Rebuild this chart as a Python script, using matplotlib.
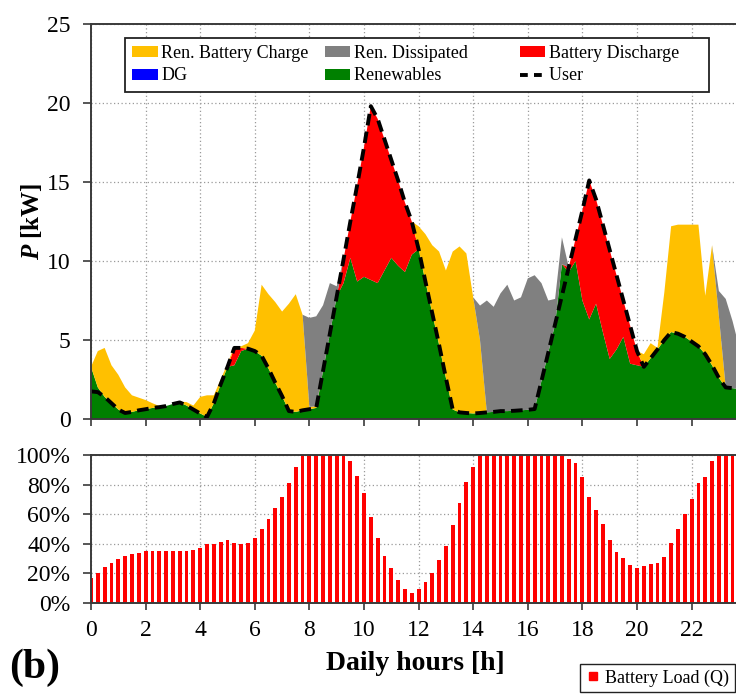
import numpy as np
import matplotlib
matplotlib.use("Agg")
import matplotlib.pyplot as plt
from matplotlib.patches import Patch
from matplotlib.lines import Line2D

plt.rcParams['font.family'] = ['Liberation Serif', 'DejaVu Serif']
plt.rcParams['mathtext.fontset'] = 'custom'
plt.rcParams['mathtext.it'] = 'Liberation Serif:italic:bold'
plt.rcParams['mathtext.rm'] = 'Liberation Serif:bold'

# ---------------- data (15-minute steps) ----------------
hours = np.arange(96) * 0.25

user = [1.75, 1.7, 1.4, 1.0, 0.6, 0.38, 0.45, 0.55, 0.62, 0.7, 0.75, 0.82,
        0.95, 1.05, 0.85, 0.6, 0.35, 0.13, 1.0, 2.2, 3.3, 4.5, 4.5, 4.45,
        4.3, 4.0, 3.2, 2.3, 1.45, 0.5, 0.45, 0.55, 0.62, 0.7, 3.05, 5.4,
        7.75, 10.1, 12.5, 14.8, 17.2, 19.8, 19.0, 17.7, 16.4, 15.1, 13.7, 12.5,
        10.75, 8.7, 6.7, 4.7, 2.6, 0.6, 0.42, 0.38, 0.35, 0.38, 0.42, 0.45,
        0.5, 0.5, 0.52, 0.55, 0.58, 0.63, 2.4, 4.2, 6.0, 7.8, 9.6, 11.4,
        13.2, 15.1, 13.9, 12.3, 10.7, 9.1, 7.5, 5.9, 4.3, 3.3, 3.85, 4.4,
        5.0, 5.5, 5.4, 5.2, 4.9, 4.6, 4.1, 3.4, 2.6, 2.0, 1.95, 1.9]

renewables = [3.3, 2.0, 1.4, 1.0, 0.6, 0.38, 0.45, 0.55, 0.62, 0.7, 0.75, 0.82,
              0.95, 1.05, 0.85, 0.6, 0.35, 0.13, 1.0, 2.2, 3.3, 3.4, 4.3, 4.45,
              4.3, 4.0, 3.2, 2.3, 1.45, 0.5, 0.45, 0.55, 0.62, 0.7, 3.05, 5.4,
              7.75, 8.6, 10.2, 8.7, 9.0, 8.8, 8.6, 9.4, 10.2, 9.7, 9.3, 10.4,
              10.75, 8.7, 6.7, 4.7, 2.6, 0.6, 0.42, 0.38, 0.35, 0.38, 0.42, 0.45,
              0.5, 0.5, 0.52, 0.55, 0.58, 0.63, 2.4, 4.2, 6.0, 9.8, 9.3, 10.0,
              7.5, 6.3, 7.3, 5.5, 3.8, 4.4, 5.2, 3.5, 3.4, 3.3, 3.85, 4.4,
              5.0, 5.5, 5.4, 5.2, 4.9, 4.6, 4.1, 3.4, 2.6, 2.0, 1.95, 1.9]

battery_discharge = [0, 0, 0, 0, 0, 0, 0, 0, 0, 0, 0, 0,
                     0, 0, 0, 0, 0, 0, 0, 0, 0, 1.1, 0.2, 0,
                     0, 0, 0, 0, 0, 0, 0, 0, 0, 0, 0, 0,
                     0, 1.5, 2.3, 6.1, 8.2, 11.0, 10.4, 8.3, 6.2, 5.4, 4.4, 2.1,
                     0, 0, 0, 0, 0, 0, 0, 0, 0, 0, 0, 0,
                     0, 0, 0, 0, 0, 0, 0, 0, 0, 0, 0.3, 1.4,
                     5.7, 8.8, 6.6, 6.8, 6.9, 4.7, 2.3, 2.4, 0.9, 0, 0, 0,
                     0, 0, 0, 0, 0, 0, 0, 0, 0, 0, 0, 0]

ren_battery_charge = [0, 2.3, 3.1, 2.4, 2.2, 1.62, 1.05, 0.8, 0.58, 0.3, 0.07, 0,
                      0, 0.05, 0.22, 0.25, 1.05, 1.37, 0.5, 0.3, 0.2, 0.1, 0.1, 0.35,
                      1.3, 4.5, 4.7, 5.1, 5.35, 6.8, 7.45, 6.05, 0.15, 0.1, 0, 0,
                      0, 0, 0, 0, 0, 0, 0, 0, 0, 0, 0, 0,
                      1.45, 3.0, 4.3, 5.9, 6.8, 10.0, 10.5, 10.1, 7.35, 4.6, 0, 0,
                      0, 0, 0, 0, 0, 0, 0, 0, 0, 0, 0, 0,
                      0, 0, 0, 0, 0, 0, 0, 0, 0, 0.8, 0.95, 0.1,
                      3.0, 6.7, 6.9, 7.1, 7.4, 7.7, 3.7, 7.6, 3.9, 0, 0, 0]

ren_dissipated = [0, 0, 0, 0, 0, 0, 0, 0, 0, 0, 0, 0,
                  0, 0, 0, 0, 0, 0, 0, 0, 0, 0, 0, 0,
                  0, 0, 0, 0, 0, 0, 0, 0, 5.63, 5.7, 4.15, 3.2,
                  0.65, 0, 0, 0, 0, 0, 0, 0, 0, 0, 0, 0,
                  0, 0, 0, 0, 0, 0, 0, 0, 0, 2.2, 7.08, 6.65,
                  7.45, 8.0, 6.98, 7.15, 8.32, 8.47, 6.2, 3.3, 1.6, 1.7, 0, 0,
                  0, 0, 0, 0, 0, 0, 0, 0, 0, 0, 0, 0,
                  0, 0, 0, 0, 0, 0, 0, 0, 1.6, 5.6, 4.25, 2.6]

battery_load = [16.7, 20, 24.5, 27.3, 30, 31.8, 32.9, 34, 34.9, 35, 35, 35,
                35, 35, 35.3, 36, 37.5, 39.6, 40, 41.4, 42.5, 40.8, 39.9, 40.3,
                43.7, 50, 56.8, 64, 71.6, 81, 91.6, 100, 100, 100, 100, 100,
                100, 99, 96, 86, 74, 58, 43.7, 31.8, 23.4, 15.5, 9.2, 6.5,
                9.2, 14, 20.5, 29, 38.5, 53, 67.8, 81.5, 92, 100, 100, 100,
                100, 100, 100, 100, 100, 100, 100, 100, 100, 100, 97, 94.4,
                85, 71.8, 62.8, 53.4, 42.6, 34.2, 30.2, 25.7, 23.4, 25, 26.4, 26.8,
                31.3, 40.3, 50.2, 60, 70, 80.9, 85.3, 96, 100, 100, 100, 100]

labels_top = ['Ren. Battery Charge', 'DG', 'Ren. Dissipated', 'Renewables',
              'Battery Discharge', 'User']
x_ticks = [0, 2, 4, 6, 8, 10, 12, 14, 16, 18, 20, 22]
y_ticks_top = [0, 5, 10, 15, 20, 25]
y_ticks_bot = [0, 20, 40, 60, 80, 100]

# ---------------- style ----------------
c_yellow = '#FFC000'
c_grey = '#808080'
c_red = '#FF0000'
c_green = '#008000'
c_blue = '#0000FF'
spine_col = '#3a3a3a'
tick_fs = 17

W, H = 736, 695
fig = plt.figure(figsize=(W / 100, H / 100), dpi=100)
ax1 = fig.add_axes([91 / W, (H - 419) / H, 645 / W, 395 / H])
ax2 = fig.add_axes([91 / W, (H - 603) / H, 645 / W, 148 / H])

for ax in (ax1, ax2):
    ax.set_axisbelow(True)
    ax.grid(True, linestyle=(0, (1, 2)), color='#9a9a9a', linewidth=0.9)
    ax.spines['right'].set_visible(False)
    for s in ('left', 'top', 'bottom'):
        ax.spines[s].set_color(spine_col)
        ax.spines[s].set_linewidth(1.4)
    ax.tick_params(axis='y', direction='out', length=5.8, width=1.2,
                   color=spine_col, labelsize=tick_fs, pad=9)
    ax.tick_params(axis='x', direction='out', length=5, width=1.2,
                   color=spine_col, labelsize=tick_fs, pad=7)
    ax.set_xlim(0, 645 / 27.3)
    ax.set_xticks(x_ticks)

# top chart
ax1.stackplot(hours, renewables, battery_discharge, ren_battery_charge,
              ren_dissipated, colors=[c_green, c_red, c_yellow, c_grey],
              linewidth=0)
ax1.plot(hours, user, color='black', linestyle=(0, (3, 1.6)), linewidth=2.8)
ax1.set_ylim(0, 25)
ax1.set_yticks(y_ticks_top)
ax1.set_xticklabels([])
ax1.set_ylabel(r'$P$ [kW]', fontsize=18, fontweight='bold', labelpad=2)

nb = '\u00a0'
leg_labels = [labels_top[0], labels_top[1],
              labels_top[2] + nb * 8, labels_top[3] + nb * 8,
              labels_top[4] + nb * 5, labels_top[5] + nb * 5]
handles = [Patch(facecolor=c_yellow), Patch(facecolor=c_blue),
           Patch(facecolor=c_grey), Patch(facecolor=c_green),
           Patch(facecolor=c_red),
           Line2D([0], [0], color='black', linestyle=(0, (2, 1.6)), linewidth=2.8)]
leg = ax1.legend(handles, leg_labels, ncol=3, loc='upper left',
                 bbox_to_anchor=(0.053, 0.965), fontsize=13,
                 frameon=True, fancybox=False, edgecolor='#222222',
                 framealpha=1, handlelength=1.4, handleheight=0.55,
                 handletextpad=0.2, columnspacing=0.9, borderpad=0.4,
                 labelspacing=0.3, borderaxespad=0)
leg.get_frame().set_linewidth(1.3)

# bottom chart
ax2.bar(hours, battery_load, width=0.14, color=c_red, linewidth=0)
ax2.set_ylim(0, 100)
ax2.set_yticks(y_ticks_bot)
ax2.set_yticklabels([f'{v}%' for v in y_ticks_bot])
ax2.set_xticklabels([str(v) for v in x_ticks])

fig.text(415 / W, 1 - 663 / H, 'Daily hours [h]', fontsize=20,
         fontweight='bold', ha='center', va='center')
fig.text(9 / W, 1 - 668 / H, '(b)', fontsize=30, fontweight='bold',
         ha='left', va='center')

leg2 = fig.legend([Line2D([0], [0], marker='s', color=c_red, linestyle='none',
                          markersize=6)], ['Battery Load (Q)'],
                  loc='lower left', bbox_to_anchor=(580 / W, 3 / H),
                  fontsize=13, frameon=True, fancybox=False,
                  edgecolor='#222222', framealpha=1, handlelength=0.8,
                  handletextpad=0.3, borderpad=0.3, borderaxespad=0)
leg2.get_frame().set_linewidth(1.0)

fig.savefig('out.png', dpi=100)
